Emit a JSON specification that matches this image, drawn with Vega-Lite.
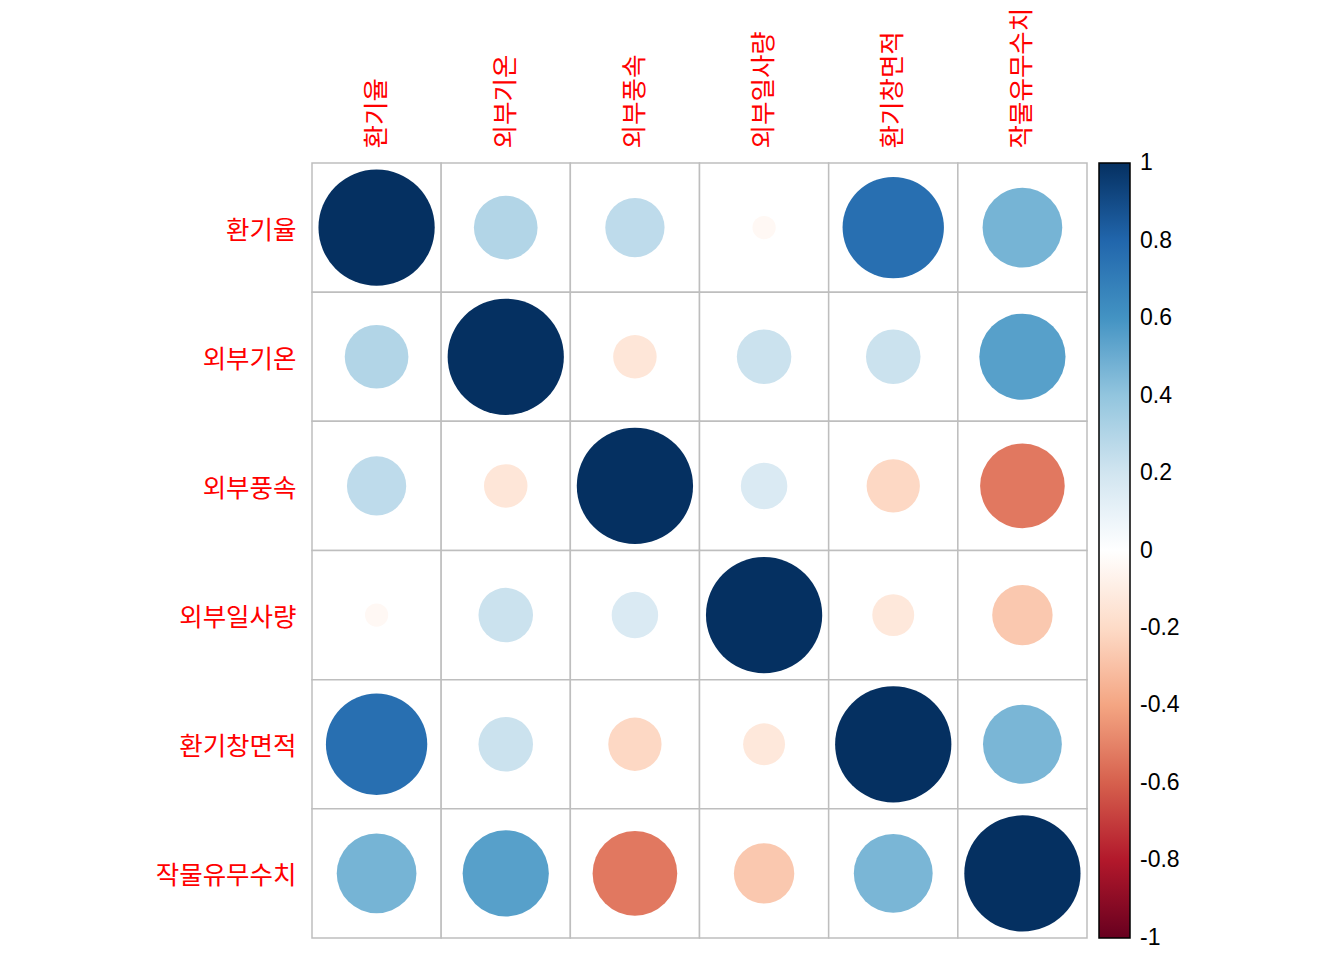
{
  "$schema": "https://vega.github.io/schema/vega-lite/v6.json",
  "autosize": {"type": "none"},
  "padding": {"left": 312, "top": 163, "right": 257, "bottom": 22},
  "width": 775,
  "height": 775,
  "background": "white",
  "config": {"view": {"stroke": null}},
  "datasets": {
    "corr": [
      {"a": "환기율", "b": "환기율", "r": 1},
      {"a": "환기율", "b": "외부기온", "r": 0.30},
      {"a": "환기율", "b": "외부풍속", "r": 0.26},
      {"a": "환기율", "b": "외부일사량", "r": -0.04},
      {"a": "환기율", "b": "환기창면적", "r": 0.76},
      {"a": "환기율", "b": "작물유무수치", "r": 0.47},
      {"a": "외부기온", "b": "환기율", "r": 0.30},
      {"a": "외부기온", "b": "외부기온", "r": 1},
      {"a": "외부기온", "b": "외부풍속", "r": -0.14},
      {"a": "외부기온", "b": "외부일사량", "r": 0.22},
      {"a": "외부기온", "b": "환기창면적", "r": 0.22},
      {"a": "외부기온", "b": "작물유무수치", "r": 0.55},
      {"a": "외부풍속", "b": "환기율", "r": 0.26},
      {"a": "외부풍속", "b": "외부기온", "r": -0.14},
      {"a": "외부풍속", "b": "외부풍속", "r": 1},
      {"a": "외부풍속", "b": "외부일사량", "r": 0.16},
      {"a": "외부풍속", "b": "환기창면적", "r": -0.21},
      {"a": "외부풍속", "b": "작물유무수치", "r": -0.53},
      {"a": "외부일사량", "b": "환기율", "r": -0.04},
      {"a": "외부일사량", "b": "외부기온", "r": 0.22},
      {"a": "외부일사량", "b": "외부풍속", "r": 0.16},
      {"a": "외부일사량", "b": "외부일사량", "r": 1},
      {"a": "외부일사량", "b": "환기창면적", "r": -0.13},
      {"a": "외부일사량", "b": "작물유무수치", "r": -0.27},
      {"a": "환기창면적", "b": "환기율", "r": 0.76},
      {"a": "환기창면적", "b": "외부기온", "r": 0.22},
      {"a": "환기창면적", "b": "외부풍속", "r": -0.21},
      {"a": "환기창면적", "b": "외부일사량", "r": -0.13},
      {"a": "환기창면적", "b": "환기창면적", "r": 1},
      {"a": "환기창면적", "b": "작물유무수치", "r": 0.46},
      {"a": "작물유무수치", "b": "환기율", "r": 0.47},
      {"a": "작물유무수치", "b": "외부기온", "r": 0.55},
      {"a": "작물유무수치", "b": "외부풍속", "r": -0.53},
      {"a": "작물유무수치", "b": "외부일사량", "r": -0.27},
      {"a": "작물유무수치", "b": "환기창면적", "r": 0.46},
      {"a": "작물유무수치", "b": "작물유무수치", "r": 1}
    ]
  },
  "data": {"name": "corr"},
  "encoding": {
    "x": {
      "field": "b", "type": "nominal",
      "sort": ["환기율", "외부기온", "외부풍속", "외부일사량", "환기창면적", "작물유무수치"],
      "scale": {"paddingInner": 0, "paddingOuter": 0},
      "axis": {
        "orient": "top", "title": null, "ticks": false, "domain": false, "grid": false,
        "labelAngle": -90, "labelAlign": "left", "labelBaseline": "middle",
        "labelPadding": 15, "labelFont": "Noto Sans CJK KR", "labelFontSize": 25.5,
        "labelColor": "#FF0000", "labelLimit": 0
      }
    },
    "y": {
      "field": "a", "type": "nominal",
      "sort": ["환기율", "외부기온", "외부풍속", "외부일사량", "환기창면적", "작물유무수치"],
      "scale": {"paddingInner": 0, "paddingOuter": 0},
      "axis": {
        "title": null, "ticks": false, "domain": false, "grid": false,
        "labelPadding": 16, "labelFont": "Noto Sans CJK KR", "labelFontSize": 25.5,
        "labelColor": "#FF0000", "labelLimit": 0, "labelOffset": 3
      }
    }
  },
  "layer": [
    {
      "mark": {"type": "rect", "fill": "white", "stroke": "#BEBEBE", "strokeWidth": 1.5}
    },
    {
      "mark": {"type": "circle", "opacity": 1, "strokeWidth": 0},
      "encoding": {
        "color": {
          "field": "r", "type": "quantitative",
          "scale": {
            "domain": [-1.0002, -0.8, -0.6, -0.4, -0.2, 0, 0.2, 0.4, 0.6, 0.8, 1.0002],
            "range": ["#67001F", "#B2182B", "#D6604D", "#F4A582", "#FDDBC7", "#FFFFFF", "#D1E5F0", "#92C5DE", "#4393C3", "#2166AC", "#053061"],
            "interpolate": "rgb"
          },
          "legend": {
            "title": null, "direction": "vertical",
            "values": [1, 0.8, 0.6, 0.4, 0.2, 0, -0.2, -0.4, -0.6, -0.8, -1],
            "gradientLength": 775, "gradientThickness": 31,
            "gradientStrokeColor": "black", "gradientStrokeWidth": 1.5,
            "labelFont": "Liberation Sans", "labelFontSize": 23, "labelColor": "black",
            "labelBaseline": "middle", "labelOffset": 10, "labelOverlap": false,
            "labelExpr": "'' + datum.value",
            "offset": 12, "padding": 0
          }
        },
        "size": {
          "field": "r", "type": "quantitative",
          "scale": {"domain": [-1, 0, 1], "range": [13514, 0, 13514]},
          "legend": null
        }
      }
    }
  ]
}
